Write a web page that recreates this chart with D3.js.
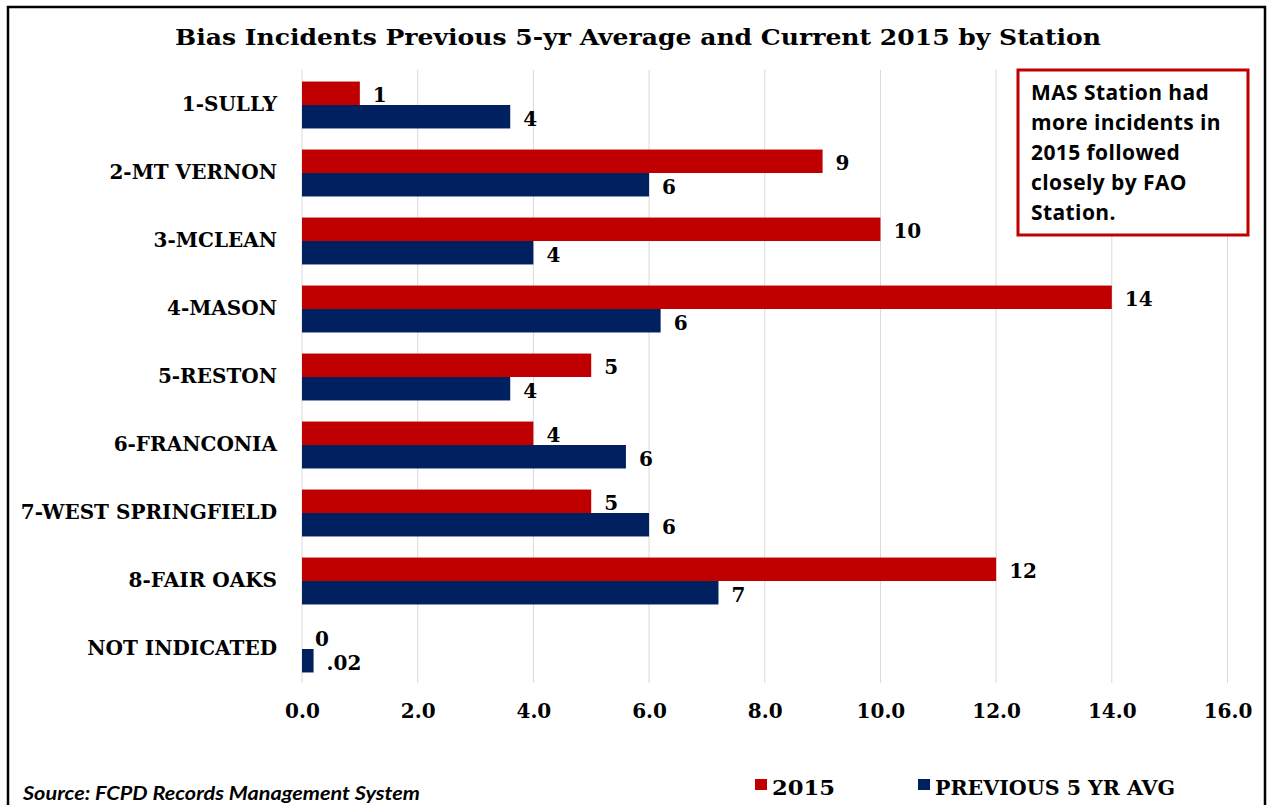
<!DOCTYPE html>
<html><head><meta charset="utf-8">
<script src="https://cdn.jsdelivr.net/npm/d3@7"></script>
<style>body{margin:0;background:#fff}svg{display:block}</style>
</head><body><svg id="c" width="1268" height="805"></svg>
<script>
const categories = ["1-SULLY","2-MT VERNON","3-MCLEAN","4-MASON","5-RESTON","6-FRANCONIA","7-WEST SPRINGFIELD","8-FAIR OAKS","NOT INDICATED"];
const values2015 = [1,9,10,14,5,4,5,12,0];
const valuesPrev = [3.6,6.0,4.0,6.2,3.6,5.6,6.0,7.2,0.2];
const labels2015 = ["1","9","10","14","5","4","5","12","0"];
const labelsPrev = ["4","6","4","6","4","6","6","7",".02"];
const xTicks = [0,2,4,6,8,10,12,14,16];
const seriesNames = ["2015","PREVIOUS 5 YR AVG"];
const colors = ["#C00000","#002060"];
const title = "Bias Incidents Previous 5-yr Average and Current 2015 by Station";
const noteLines = ["MAS Station had","more incidents in","2015 followed","closely by FAO","Station."];
const source = "Source: FCPD Records Management System";

const svg = d3.select("#c");
const serif = "'DejaVu Serif', serif";

// outer border
svg.append("path").attr("d","M8,806V7H1265V806").attr("fill","none").attr("stroke","#000").attr("stroke-width",2.5);

svg.append("text").attr("x",638).attr("y",45).attr("text-anchor","middle")
  .attr("font-family",serif).attr("font-weight","bold").attr("font-size",23)
  .attr("textLength",926).attr("lengthAdjust","spacingAndGlyphs").text(title);

const x = d3.scaleLinear().domain([0,16]).range([302,1227.5]);
const y = d3.scaleBand().domain(categories).range([71,683]).paddingInner(0.31).paddingOuter(0.155);
const ys = d3.scaleBand().domain([0,1]).range([0,y.bandwidth()]);

// gridlines
svg.append("g").selectAll("line").data(xTicks).join("line")
  .attr("x1",d=>x(d)).attr("x2",d=>x(d)).attr("y1",70).attr("y2",683)
  .attr("stroke","#d9d9d9").attr("stroke-width",1);

// x axis
const xa = svg.append("g").attr("transform","translate(0,683)")
  .call(d3.axisBottom(x).tickValues(xTicks).tickFormat(d3.format(".1f")).tickSize(0).tickPadding(21));
xa.select(".domain").remove();
xa.selectAll("text").attr("font-family",serif).attr("font-weight","bold").attr("font-size",20).attr("fill","#000");

// y axis
const ya = svg.append("g").attr("transform","translate(302,0)")
  .call(d3.axisLeft(y).tickSize(0).tickPadding(25));
ya.select(".domain").remove();
ya.selectAll("text").attr("font-family",serif).attr("font-weight","bold").attr("font-size",20).attr("fill","#000");

const series = [
  {vals:values2015, labels:labels2015, i:0},
  {vals:valuesPrev, labels:labelsPrev, i:1}
];
series.forEach(s=>{
  const g = svg.append("g");
  g.selectAll("rect").data(categories).join("rect")
    .attr("x",x(0)).attr("y",(c)=>y(c)+ys(s.i))
    .attr("width",(c,j)=>x(s.vals[j])-x(0)).attr("height",ys.bandwidth())
    .attr("fill",colors[s.i]);
  g.selectAll("text").data(categories).join("text")
    .attr("x",(c,j)=>x(s.vals[j])+13).attr("y",(c)=>y(c)+ys(s.i)+ys.bandwidth()/2+2)
    .attr("dy","0.35em")
    .attr("font-family",serif).attr("font-weight","bold").attr("font-size",20)
    .text((c,j)=>s.labels[j]);
});

// annotation box
svg.append("rect").attr("x",1018).attr("y",70).attr("width",230).attr("height",165)
  .attr("fill","#fff").attr("stroke","#C00000").attr("stroke-width",3);
svg.append("g").selectAll("text").data(noteLines).join("text")
  .attr("x",1031).attr("y",(d,i)=>100+i*30)
  .attr("font-family","'Open Sans', sans-serif").attr("font-weight","bold").attr("font-size",21)
  .attr("letter-spacing",0.4)
  .text(d=>d);

// legend
const lx = [755, 918];
const lw = [63, 240];
seriesNames.forEach((n,i)=>{
  svg.append("rect").attr("x",lx[i]).attr("y",779).attr("width",12).attr("height",11).attr("fill",colors[i]);
  svg.append("text").attr("x",lx[i]+17).attr("y",795)
    .attr("font-family",serif).attr("font-weight","bold").attr("font-size",20)
    .attr("textLength",lw[i]).attr("lengthAdjust","spacingAndGlyphs").text(n);
});

svg.append("text").attr("x",23).attr("y",800)
  .attr("font-family","Lato, sans-serif").attr("font-weight","bold").attr("font-style","italic").attr("font-size",18)
  .attr("textLength",397).attr("lengthAdjust","spacingAndGlyphs").text(source);
</script></body></html>
